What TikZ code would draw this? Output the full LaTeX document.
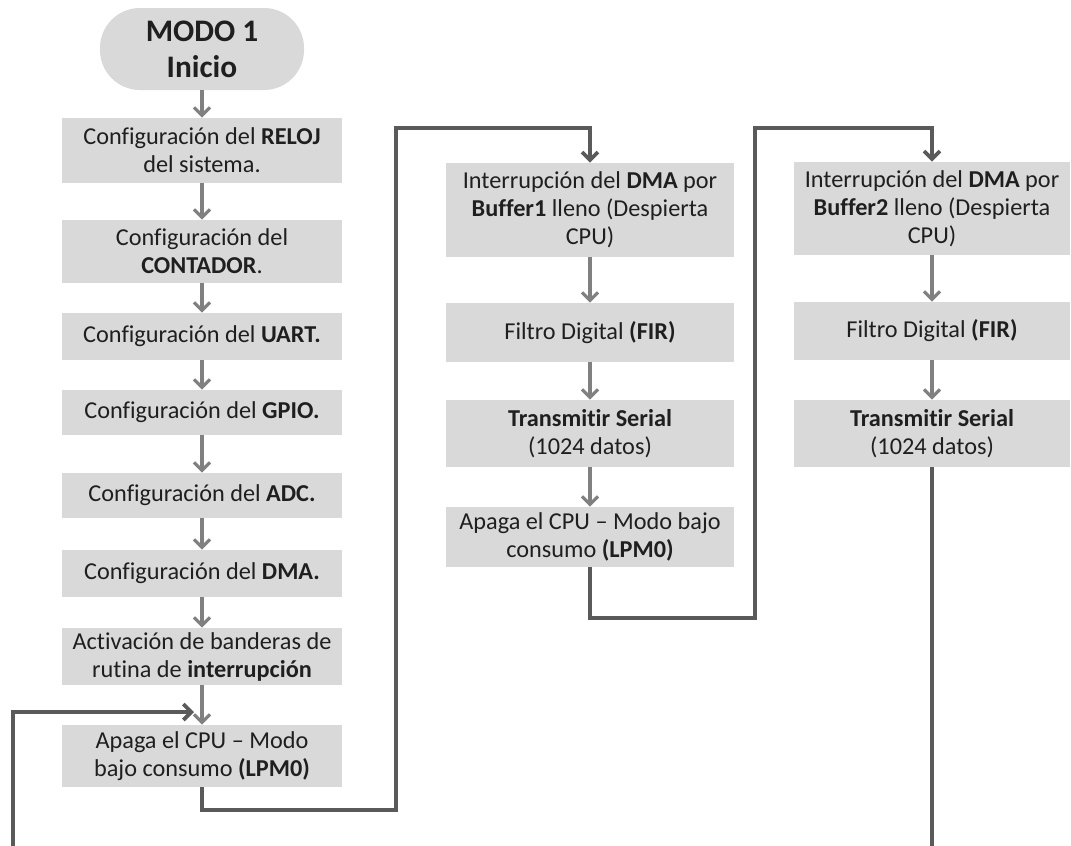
\documentclass[tikz,border=0pt]{standalone}
\usepackage{fontspec}
\setmainfont[Ligatures=NoCommon]{Carlito}
\usetikzlibrary{arrows.meta,calc}
\definecolor{boxgray}{HTML}{D9D9D9}
\definecolor{arrgray}{HTML}{808080}
\definecolor{loopgray}{HTML}{5A5A5A}
\tikzset{
 box/.style={fill=boxgray, draw=none, align=center, inner sep=0pt, font=\fontsize{18.2}{21}\selectfont, text=black!88},
 startbox/.style={box, rounded corners=30pt, font=\fontsize{23.5}{27}\selectfont\bfseries},
 flow/.style={draw=arrgray, line width=2.4pt, -{Straight Barb[length=6pt,width=12pt]}},
 loopline/.style={draw=loopgray, line width=2.8pt},
 looparrow/.style={loopline, -{Straight Barb[length=6pt,width=12pt]}},
}
\begin{document}
\begin{tikzpicture}[x=0.75pt,y=-0.75pt]
\useasboundingbox (0,0) rectangle (1071,846);
\fill[white] (0,0) rectangle (1071,846);
% left column
\node[startbox, minimum width=153pt, minimum height=61.5pt] (start) at (202,49) {MODO 1\\Inicio};
\node[box, minimum width=210pt, minimum height=48.75pt] (reloj) at (202,150.5) {Configuración del \textbf{RELOJ}\\del sistema.};
\node[box, minimum width=210pt, minimum height=47.25pt] (cont) at (202,251.5) {Configuración del\\\textbf{CONTADOR}.};
\node[box, minimum width=210pt, minimum height=35.25pt] (uart) at (202,336.5) {Configuración del \textbf{UART.}};
\node[box, minimum width=210pt, minimum height=33.75pt] (gpio) at (202,412.5) {Configuración del \textbf{GPIO.}};
\node[box, minimum width=210pt, minimum height=33.75pt] (adc) at (202,495.5) {Configuración del \textbf{ADC.}};
\node[box, minimum width=210pt, minimum height=35.25pt] (dma) at (202,573.5) {Configuración del \textbf{DMA.}};
\node[box, minimum width=210pt, minimum height=42.75pt] (activ) at (202,656.5) {Activación de banderas de\\rutina de \textbf{interrupción}};
\node[box, minimum width=210pt, minimum height=46.5pt] (lpm) at (202,756) {Apaga el CPU – Modo\\bajo consumo \textbf{(LPM0)}};
% middle column
\node[box, minimum width=216pt, minimum height=70.5pt] (b1) at (590,210) {Interrupción del \textbf{DMA} por\\\textbf{Buffer1} lleno (Despierta\\CPU)};
\node[box, minimum width=216pt, minimum height=44.25pt] (fir1) at (590,332.5) {Filtro Digital \textbf{(FIR)}};
\node[box, minimum width=216pt, minimum height=50.25pt] (tx1) at (590,433.5) {\textbf{Transmitir Serial}\\(1024 datos)};
\node[box, minimum width=216pt, minimum height=45pt] (lpm1) at (590,537) {Apaga el CPU – Modo bajo\\consumo \textbf{(LPM0)}};
% right column
\node[box, minimum width=207pt, minimum height=69.75pt] (b2) at (932,208.5) {Interrupción del \textbf{DMA} por\\\textbf{Buffer2} lleno (Despierta\\CPU)};
\node[box, minimum width=207pt, minimum height=43.5pt] (fir2) at (932,331) {Filtro Digital \textbf{(FIR)}};
\node[box, minimum width=207pt, minimum height=50.25pt] (tx2) at (932,433.5) {\textbf{Transmitir Serial}\\(1024 datos)};
% flow arrows
\draw[flow] (start) -- (reloj);
\draw[flow] (reloj) -- (cont);
\draw[flow] (cont) -- (uart);
\draw[flow] (uart) -- (gpio);
\draw[flow] (gpio) -- (adc);
\draw[flow] (adc) -- (dma);
\draw[flow] (dma) -- (activ);
\draw[flow] (activ) -- (lpm);
\draw[flow] (b1) -- (fir1);
\draw[flow] (fir1) -- (tx1);
\draw[flow] (tx1) -- (lpm1);
\draw[flow] (b2) -- (fir2);
\draw[flow] (fir2) -- (tx2);
% loops
\draw[looparrow] (lpm.south) -- ++(0,23) -| (396,128) -| (b1.north);
\draw[looparrow] (lpm1.south) -- ++(0,51) -| (755,128) -| (b2.north);
\coordinate (br) at (932,850);
\draw[loopline] (tx2.south) -- (br);
\coordinate (bl) at (13,850);
\coordinate (jn) at (194,712);
\draw[looparrow] (bl) |- (jn);
\end{tikzpicture}
\end{document}
